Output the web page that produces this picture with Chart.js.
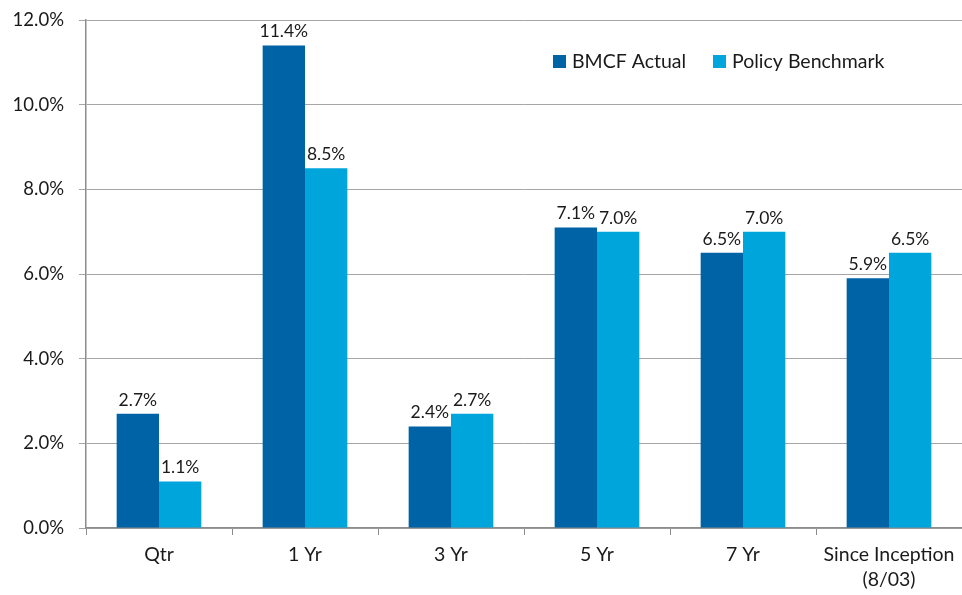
<!DOCTYPE html>
<html>
<head>
<meta charset="utf-8">
<script src="https://cdn.jsdelivr.net/npm/chart.js@4.4.1/dist/chart.umd.min.js"></script>
<style>
  html, body { margin: 0; padding: 0; background: #fff; }
  #wrap { width: 962px; height: 595px; }
</style>
</head>
<body>
<div id="wrap"><canvas id="myChart"></canvas></div>
<script>
// chart values
const categories = ['Qtr', '1 Yr', '3 Yr', '5 Yr', '7 Yr', ['Since Inception', '(8/03)']];
const bmcfActual = [2.7, 11.4, 2.4, 7.1, 6.5, 5.9];
const policyBenchmark = [1.1, 8.5, 2.7, 7.0, 7.0, 6.5];
const seriesNames = ['BMCF Actual', 'Policy Benchmark'];
const seriesColors = ['#0063a6', '#00a6db'];

const FONT = 'Lato, "Noto Sans", sans-serif';

// value labels on top of each bar
const barLabels = {
    id: 'barLabels',
    afterDatasetsDraw(chart) {
        const c = chart.ctx;
        c.save();
        c.font = '17.5px ' + FONT;
        c.fillStyle = '#1a1a1a';
        c.textAlign = 'center';
        c.textBaseline = 'alphabetic';
        chart.data.datasets.forEach((ds, i) => {
            chart.getDatasetMeta(i).data.forEach((bar, j) => {
                c.fillText(ds.data[j].toFixed(1) + '%', bar.x, bar.y - 8);
            });
        });
        c.restore();
    }
};

// legend sits inside the plot, top right
const insideLegend = {
    id: 'insideLegend',
    afterDraw(chart) {
        const c = chart.ctx;
        const area = chart.chartArea;
        c.save();
        c.font = '19.5px ' + FONT;
        c.textBaseline = 'middle';
        let x = area.left + 467;
        const y = area.top + 41;
        seriesNames.forEach((name, i) => {
            c.fillStyle = seriesColors[i];
            c.fillRect(x, y - 6, 13, 13);
            c.fillStyle = '#1a1a1a';
            c.fillText(name, x + 19, y + 1);
            x += 160;
        });
        c.restore();
    }
};

let ctx = document.getElementById('myChart').getContext('2d');

let chartData = {
    labels: categories,
    datasets: [
        { label: seriesNames[0], data: bmcfActual, backgroundColor: seriesColors[0] },
        { label: seriesNames[1], data: policyBenchmark, backgroundColor: seriesColors[1] }
    ]
};

let myChart = new Chart(ctx, {
    type: 'bar',
    data: chartData,
    plugins: [barLabels, insideLegend],
    options: {
        responsive: true,
        maintainAspectRatio: false,
        animation: false,
        layout: { padding: { top: 20, right: 0, bottom: 0, left: 0 } },
        datasets: { bar: { categoryPercentage: 0.58, barPercentage: 1.0 } },
        plugins: {
            legend: { display: false },
            tooltip: { enabled: false }
        },
        scales: {
            x: {
                grid: { display: true, drawOnChartArea: false, drawTicks: true, tickLength: 7, color: '#8c8c8c', offset: true },
                border: { display: true, color: '#8c8c8c', width: 1.5 },
                ticks: { color: '#1a1a1a', font: { family: FONT, size: 19.5, lineHeight: 1.25 }, padding: 8, maxRotation: 0 },
                afterFit(scale) { scale.height = 67; scale.paddingLeft = 0; scale.paddingRight = 0; }
            },
            y: {
                min: 0,
                max: 12,
                grid: { color: '#a6a6a6', lineWidth: 1, tickLength: 7, drawTicks: true },
                border: { display: true, color: '#8c8c8c', width: 1.5 },
                ticks: {
                    stepSize: 2,
                    color: '#1a1a1a',
                    font: { family: FONT, size: 18.5 },
                    padding: 15,
                    callback: v => v.toFixed(1) + '%'
                },
                afterFit(scale) { scale.width = 86; scale.paddingTop = 0; scale.paddingBottom = 0; }
            }
        }
    }
});
</script>
</body>
</html>
